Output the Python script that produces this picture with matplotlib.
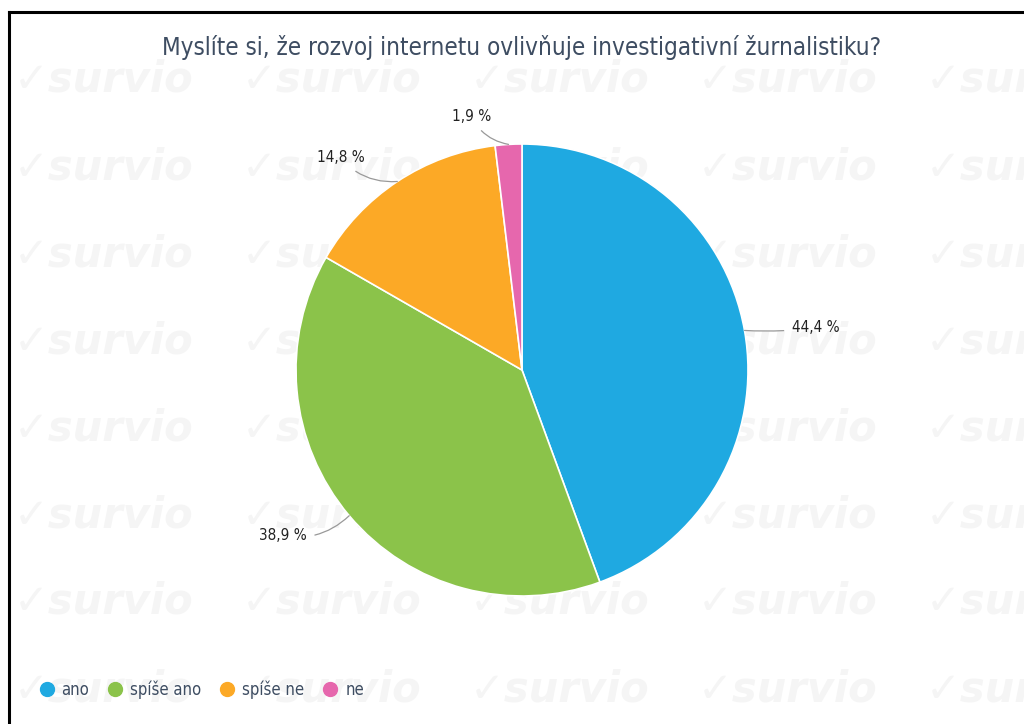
import numpy as np
import matplotlib.pyplot as plt
from matplotlib.lines import Line2D
from matplotlib.font_manager import FontProperties

title = 'Myslíte si, že rozvoj internetu ovlivňuje investigativní žurnalistiku?'
categories = ['ano', 'spíše ano', 'spíše ne', 'ne']
values = [44.4, 38.9, 14.8, 1.9]
labels = ['44,4 %', '38,9 %', '14,8 %', '1,9 %']
colors = ['#1fa9e1', '#8bc34a', '#fca926', '#e667ad']

plt.rcParams['font.family'] = ['DejaVu Sans']

W, H = 1024, 724
fig = plt.figure(figsize=(W / 100, H / 100), dpi=100)
fig.patch.set_facecolor('white')

# watermark grid, behind everything
for row in range(9):
    for col in range(5):
        fig.text((14 + col * 228) / W, 1 - (80 + row * 87) / H, '✓survio',
                 fontsize=30, fontweight='bold', style='italic',
                 color='#f5f5f5', va='center', ha='left', zorder=-10)

# border (left and top only)
fig.add_artist(Line2D([9 / W, 9 / W], [0, 1 - 12 / H], color='black', lw=2.2,
                      transform=fig.transFigure))
fig.add_artist(Line2D([9 / W, 1], [1 - 12 / H, 1 - 12 / H], color='black', lw=2.2,
                      transform=fig.transFigure))

cx, cy, r = 522, 370, 226
ax = fig.add_axes([(cx - r) / W, (H - cy - r) / H, 2 * r / W, 2 * r / H])
ax.set_zorder(5)
ax.patch.set_visible(False)

wedges, _ = ax.pie(values, colors=colors, startangle=90, counterclock=False,
                   radius=1, wedgeprops=dict(edgecolor='white', linewidth=1.2))
ax.set_xlim(-1, 1)
ax.set_ylim(-1, 1)
ax.set_aspect('equal')
ax.axis('off')

lab_font = FontProperties(family='DejaVu Sans', stretch='condensed', size=11)
# label nudges in px (dx, dy)
nudges = [(3, -5), (-8, 9), (-8, -14), (-15, -17)]
for w, lab, (dx, dy) in zip(wedges, labels, nudges):
    ang = np.deg2rad((w.theta1 + w.theta2) / 2)
    x0, y0 = np.cos(ang), np.sin(ang)
    tx = 1.2 * x0 + dx / r
    ty = 1.2 * y0 + dy / r
    left = x0 < 0
    ax.annotate(lab, xy=(x0, y0), xytext=(tx, ty),
                ha='right' if left else 'left', va='center',
                fontproperties=lab_font, color='#222222', annotation_clip=False,
                arrowprops=dict(arrowstyle='-', color='#999999', lw=0.9,
                                shrinkA=4, shrinkB=0,
                                connectionstyle='arc3,rad=%s' % (0.25 if left else -0.05)))

fig.text(cx / W, 1 - 47 / H, title, ha='center', va='center', fontsize=17.4,
         fontstretch='condensed', color='#3e4d62')

handles = [Line2D([], [], marker='o', ls='', markersize=10, markerfacecolor=c,
                  markeredgecolor=c) for c in colors]
leg_font = FontProperties(family='DejaVu Sans', stretch='condensed', size=12)
fig.legend(handles, categories, loc='center left', bbox_to_anchor=(19 / W, 1 - 690 / H),
           ncol=4, frameon=False, prop=leg_font, handletextpad=0.15,
           columnspacing=0.8, labelcolor='#3e4d62', handlelength=1.5)

fig.savefig('out.png', dpi=100, facecolor='white')
